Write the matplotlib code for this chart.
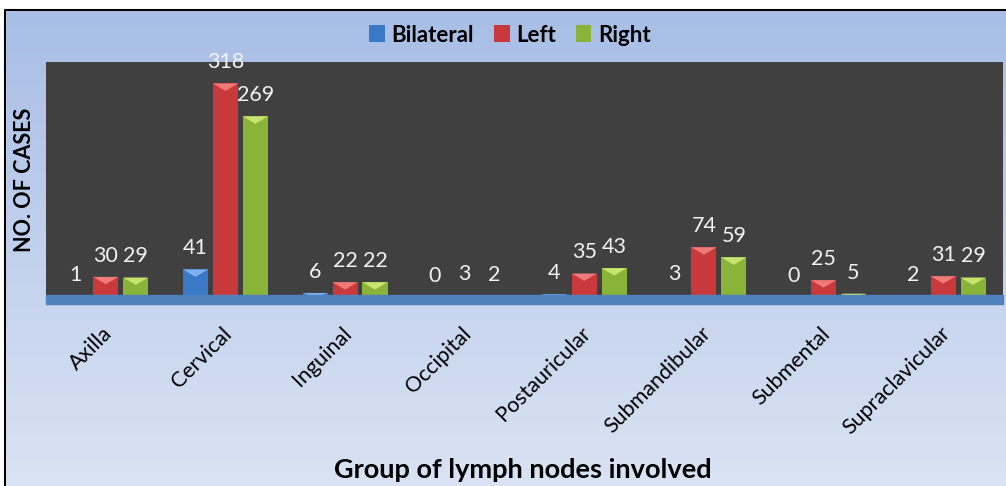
import numpy as np
import matplotlib
matplotlib.use("Agg")
import matplotlib.pyplot as plt
from matplotlib.patches import Rectangle, Polygon

plt.rcParams['font.family'] = ['Lato', 'DejaVu Sans']

groups = ["Axilla", "Cervical", "Inguinal", "Occipital", "Postauricular",
          "Submandibular", "Submental", "Supraclavicular"]
bilateral = [1, 41, 6, 0, 4, 3, 0, 2]
left = [30, 318, 22, 3, 35, 74, 25, 31]
right = [29, 269, 22, 2, 43, 59, 5, 29]

series = [("Bilateral", bilateral, "#3a78c8", "#7fb2ec"),
          ("Left", left, "#c9393b", "#f07a7a"),
          ("Right", right, "#8ab33a", "#c6e46e")]

W, H = 1006, 486
fig = plt.figure(figsize=(W / 100, H / 100), dpi=100)

# background gradient + border
bg = fig.add_axes([0, 0, 1, 1], zorder=-5)
grad = np.linspace(0, 1, 256).reshape(-1, 1)
top_c = np.array([0.655, 0.741, 0.902])
bot_c = np.array([0.855, 0.890, 0.953])
img = top_c * (1 - grad[..., None]) + bot_c * grad[..., None]
img = np.repeat(img, 2, axis=1)
bg.imshow(img, aspect='auto', extent=[0, 1, 0, 1], origin='upper')
bg.set_xlim(0, 1)
bg.set_ylim(0, 1)
bg.axis('off')
bg.add_patch(Rectangle((0, 1 - 10 / H), 1, 10 / H, color='white', zorder=2))
bg.add_patch(Rectangle((0, 0), 5 / W, 1, color='white', zorder=2))
bg.plot([5 / W, 5 / W, 1], [0, 1 - 10 / H, 1 - 10 / H], color='black', lw=1.5, zorder=3)

ax = fig.add_axes([46 / W, (H - 297) / H, 957 / W, 235 / H])
ax.set_facecolor("#404040")
x = np.arange(len(groups))
bw = 0.21
step = 0.25
for i, (name, vals, col, light) in enumerate(series):
    pos = x + (i - 1) * step
    bars = ax.bar(pos, vals, width=bw, color=col, edgecolor='none', label=name, zorder=2)
    for b, v in zip(bars, vals):
        bx, bt = b.get_x(), b.get_height()
        w = b.get_width()
        d = min(11, bt)
        if bt > 0:
            ax.add_patch(Polygon([[bx, bt], [bx + w, bt], [bx + w / 2, bt - d]],
                                 closed=True, color=light, zorder=3, lw=0))
        ax.annotate(str(v), (bx + w / 2, bt), xytext=(0, 8), textcoords='offset points',
                    ha='center', va='bottom', color='#f2f2f2', fontsize=15.5,
                    annotation_clip=False, zorder=4)

ax.set_xlim(-0.5, len(groups) - 0.5)
ax.set_ylim(0, 350)
ax.set_yticks([])
ax.set_xticks(x - 0.03)
ax.set_xticklabels(groups, rotation=45, ha='right', va='top', rotation_mode='anchor',
                   fontsize=15.5)
ax.tick_params(axis='x', length=0, pad=19)
for s in ax.spines.values():
    s.set_visible(False)
# floor slab (hides the thinnest bars like the 3D floor does)
ax.add_patch(Rectangle((0, -7 / 235), 1, 9 / 235, transform=ax.transAxes,
                       color="#4f81bd", clip_on=False, zorder=5))

ax.set_ylabel("NO. OF CASES", fontsize=15.5, fontweight='bold', labelpad=8)
fig.text(523 / W, 1 - 470 / H, "Group of lymph nodes involved", ha='center', va='center',
         fontsize=19.5, fontweight='bold')

leg = fig.legend(loc='center', bbox_to_anchor=(510 / W, 1 - 35 / H), ncol=3, frameon=False,
                 prop={'weight': 'bold', 'size': 16}, handlelength=0.7, handleheight=0.8,
                 handletextpad=0.3, columnspacing=0.9)

fig.savefig("out.png", dpi=100)
